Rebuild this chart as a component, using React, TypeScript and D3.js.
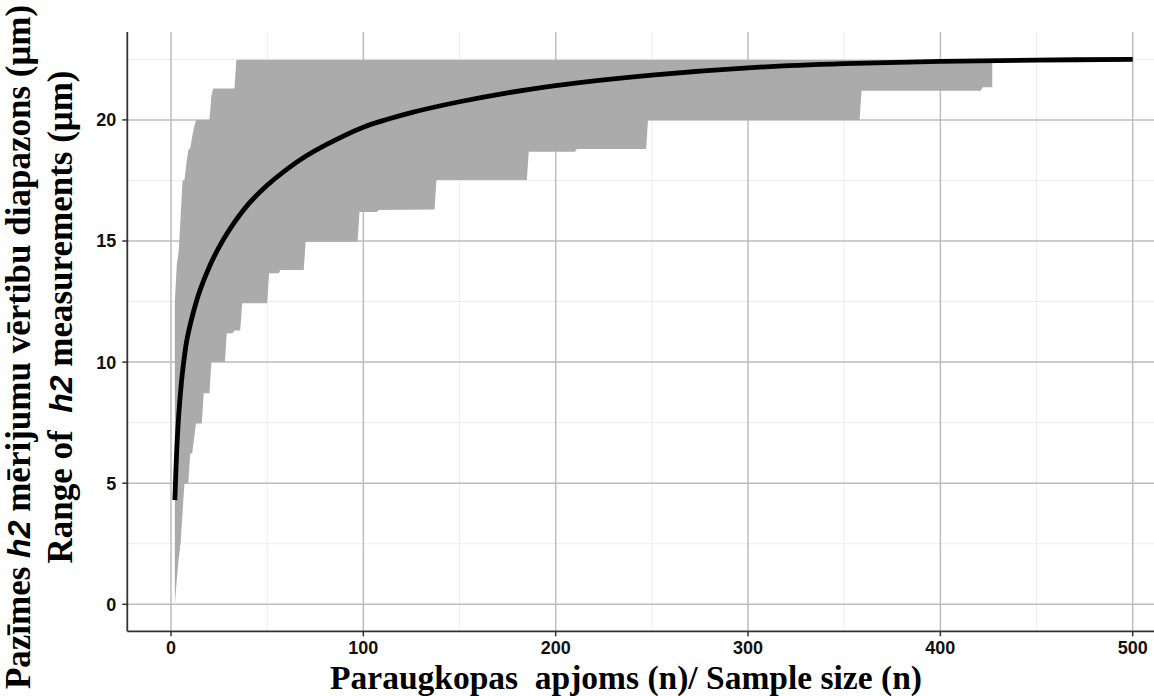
import React from 'react';
import * as d3 from 'd3';

// Axis ticks
const xTicks = [0, 100, 200, 300, 400, 500];
const xMinorTicks = [50, 150, 250, 350, 450];
const yTicks = [0, 5, 10, 15, 20];
const yMinorTicks = [2.5, 7.5, 12.5, 17.5, 22.5];

// Mean range curve (sample size n -> mean range, µm)
const meanN = [2, 3, 4, 5, 6, 8, 10, 13, 15, 20, 25, 30, 40, 50, 60, 70, 80, 100, 125, 150, 175, 200, 250, 300, 350, 400, 450, 500];
const meanRange = [4.3, 6.4, 7.8, 8.8, 9.6, 10.8, 11.55, 12.45, 12.95, 13.95, 14.75, 15.42, 16.5, 17.3, 17.95, 18.5, 18.95, 19.7, 20.3, 20.75, 21.12, 21.42, 21.85, 22.15, 22.32, 22.42, 22.47, 22.5];

// Upper boundary of the ribbon (max range)
const upperN = [2, 3, 4, 5, 6, 7, 8, 9, 10, 11, 12, 13, 20, 21, 22, 33, 34, 427];
const upperRange = [12.5, 14.0, 14.6, 16.0, 17.5, 17.52, 18.2, 18.76, 18.83, 19.3, 19.7, 20.0, 20.0, 21.0, 21.3, 21.3, 22.48, 22.48];

// Lower boundary of the ribbon (min range)
const lowerN = [2, 3, 4, 5, 6, 7, 9, 10, 11, 12, 13, 16, 17, 20, 21, 28, 29, 32, 33, 36, 37, 50, 51, 56, 57, 69, 70, 97, 98, 107, 108, 137, 138, 185, 186, 210, 211, 247, 248, 358, 359, 421, 422, 427];
const lowerRange = [0, 1.0, 1.9, 2.52, 3.8, 5.0, 5.0, 6.23, 6.23, 6.85, 7.47, 7.47, 8.71, 8.71, 10.0, 10.0, 11.19, 11.19, 11.3, 11.3, 12.43, 12.43, 13.67, 13.67, 13.8, 13.8, 14.97, 14.97, 16.2, 16.2, 16.28, 16.3, 17.52, 17.52, 18.69, 18.69, 18.8, 18.8, 20.0, 20.0, 21.2, 21.2, 21.35, 21.35];

export default function App() {
  const W = 1154;
  const H = 696;
  const panelLeft = 127.3;
  const panelRight = 1154;
  const panelTop = 32;
  const panelBottom = 631.3;

  const x = d3.scaleLinear().domain([0, 500]).range([171, 1132.7]);
  const y = d3.scaleLinear().domain([0, 20]).range([604.3, 119.9]);

  const upperPts: [number, number][] = upperN.map((n, i) => [n, upperRange[i]]);
  const lowerPts: [number, number][] = lowerN.map((n, i) => [n, lowerRange[i]]);
  const ribbonPts = upperPts.concat(lowerPts.slice().reverse());
  const polyLine = d3.line<[number, number]>().x(d => x(d[0])).y(d => y(d[1]));
  const ribbonPath = (polyLine(ribbonPts) || '') + 'Z';

  const meanPts: [number, number][] = meanN.map((n, i) => [n, meanRange[i]]);
  const curveLine = d3.line<[number, number]>().x(d => x(d[0])).y(d => y(d[1])).curve(d3.curveCatmullRom.alpha(0.5));
  const meanPath = curveLine(meanPts) || '';

  const axisColor = '#333333';
  const majorGrid = '#bdbdbd';
  const minorGrid = '#ececec';
  const tickFont = "'Liberation Sans', Arial, sans-serif";
  const titleFont = "'Liberation Serif', 'Times New Roman', serif";

  return (
    <svg width={W} height={H} style={{ position: 'fixed', left: 0, top: 0, background: '#fff' }}>
      <rect x={0} y={0} width={W} height={H} fill="#fff" />
      {/* minor grid */}
      {xMinorTicks.map(t => (
        <line key={'xm' + t} x1={x(t)} x2={x(t)} y1={panelTop} y2={panelBottom} stroke={minorGrid} strokeWidth={1} />
      ))}
      {yMinorTicks.map(t => (
        <line key={'ym' + t} x1={panelLeft} x2={panelRight} y1={y(t)} y2={y(t)} stroke={minorGrid} strokeWidth={1} />
      ))}
      {/* major grid */}
      {xTicks.map(t => (
        <line key={'xg' + t} x1={x(t)} x2={x(t)} y1={panelTop} y2={panelBottom} stroke={majorGrid} strokeWidth={1.5} />
      ))}
      {yTicks.map(t => (
        <line key={'yg' + t} x1={panelLeft} x2={panelRight} y1={y(t)} y2={y(t)} stroke={majorGrid} strokeWidth={1.5} />
      ))}

      {/* ribbon */}
      <path d={ribbonPath} fill="#ababab" stroke="none" />
      {/* mean curve */}
      <path d={meanPath} fill="none" stroke="#000" strokeWidth={4.8} />

      {/* axes */}
      <line x1={panelLeft} x2={panelLeft} y1={panelTop} y2={panelBottom} stroke={axisColor} strokeWidth={1.8} />
      <line x1={panelLeft} x2={panelRight} y1={panelBottom} y2={panelBottom} stroke={axisColor} strokeWidth={1.8} />
      {yTicks.map(t => (
        <g key={'yt' + t}>
          <line x1={panelLeft - 5} x2={panelLeft} y1={y(t)} y2={y(t)} stroke={axisColor} strokeWidth={1.5} />
          <text x={panelLeft - 11} y={y(t)} dy="0.36em" textAnchor="end" fontFamily={tickFont} fontWeight="bold" fontSize={18} fill="#111">{t}</text>
        </g>
      ))}
      {xTicks.map(t => (
        <g key={'xt' + t}>
          <line x1={x(t)} x2={x(t)} y1={panelBottom} y2={panelBottom + 5} stroke={axisColor} strokeWidth={1.5} />
          <text x={x(t)} y={654} textAnchor="middle" fontFamily={tickFont} fontWeight="bold" fontSize={18} fill="#111">{t}</text>
        </g>
      ))}

      {/* x title */}
      <text x={626} y={688.5} textAnchor="middle" fontFamily={titleFont} fontWeight="bold" fontSize={33.5} fill="#000" style={{ whiteSpace: 'pre' }}>
        {'Paraugkopas  apjoms (n)/ Sample size (n)'}
      </text>

      {/* y title, two lines */}
      <text transform="translate(30,347) rotate(-90)" textAnchor="middle" fontFamily={titleFont} fontWeight="bold" fontSize={35} fill="#000" style={{ whiteSpace: 'pre' }}>
        <tspan>{'Pazīmes '}</tspan>
        <tspan fontFamily={tickFont} fontStyle="italic" fontSize={32}>h2</tspan>
        <tspan>{' mērijumu vērtibu diapazons (μm)'}</tspan>
      </text>
      <text transform="translate(72,317) rotate(-90)" textAnchor="middle" fontFamily={titleFont} fontWeight="bold" fontSize={35} fill="#000" style={{ whiteSpace: 'pre' }}>
        <tspan>{'Range of  '}</tspan>
        <tspan fontFamily={tickFont} fontStyle="italic" fontSize={32}>h2</tspan>
        <tspan>{' measurements (μm)'}</tspan>
      </text>
    </svg>
  );
}
